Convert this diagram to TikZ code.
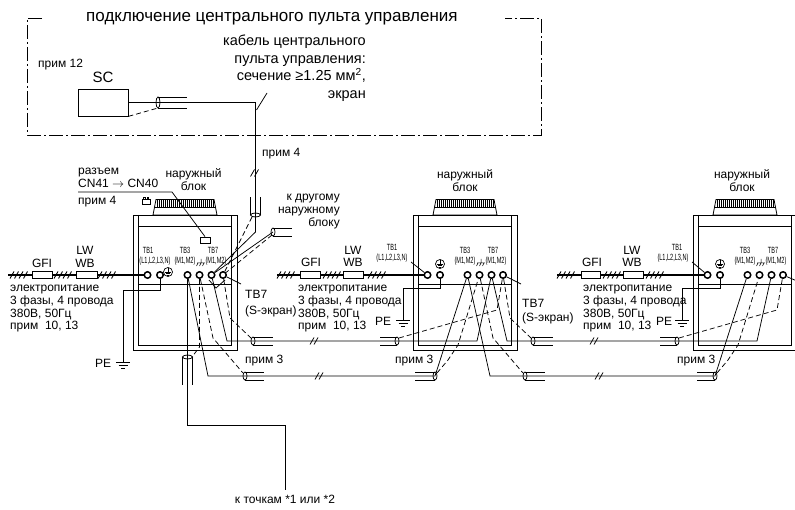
\documentclass[tikz,border=0pt]{standalone}
\usepackage{fontspec}
\setmainfont{Liberation Sans}
% outdoor unit: casing, fan, terminal blocks and their small labels
% #1 = left edge of the casing, #2 = name prefix of the terminals
\newcommand\unitbody[2]{%
  \draw[frame] (#1,215) rectangle (#1+104,350);
  \draw[frame] (#1+5.5,215) -- (#1+5.5,345) -- (#1+98.5,345) -- (#1+98.5,215)
    (#1+5.5,226) -- (#1+98.5,226) (#1+5.5,284) -- (#1+98.5,284);
  \draw[frame,fill=white] (#1+23,199.5) -- (#1+81,199.5) -- (#1+84,215) -- (#1+20,215) -- cycle;
  \draw[frame] (#1+22,207) -- (#1+82,207);
  \foreach \k in {0,...,28} \draw[line width=0.45pt] (#1+24+2*\k,199.5) -- (#1+24+2*\k,207);
  \node[term] (#2-t1a) at (#1+14.5,275) {};
  \node[term] (#2-t1b) at (#1+27,275) {};
  \node[term] (#2-t3a) at (#1+54.5,275) {};
  \node[term] (#2-t3b) at (#1+66.5,275) {};
  \node[term] (#2-t7a) at (#1+78.5,275) {};
  \node[term] (#2-t7b) at (#1+90,275) {};
  \node[tiny,anchor=base] (#2-tb3) at (#1+52,254) {TB3};
  \node[tiny,anchor=base] (#2-tb3m) at (#1+52,264) {(M1,M2)};
  \node[tiny,anchor=base] (#2-tb7) at (#1+80,254) {TB7};
  \node[tiny,anchor=base] (#2-tb7m) at (#1+83,264) {(M1,M2)};
  \chassis{#1+68}{263}%
}
% frame ground between the two terminal blocks
\newcommand\chassis[2]{%
  \draw[line width=0.5pt] (#1,#2-4) -- (#1,#2) (#1-4,#2) -- (#1+4,#2)
    (#1-3,#2) -- (#1-4.5,#2+3) (#1,#2) -- (#1-1.5,#2+3) (#1+3,#2) -- (#1+1.5,#2+3);}
% earth terminal: circle with the earth sign inside
\newcommand\earthterm[3]{%
  \node[circle,draw,line width=0.7pt,minimum size=9pt,inner sep=0pt] (#3) at (#1,#2) {};
  \draw[line width=0.6pt] (#1,#2-3.5) -- (#1,#2) (#1-3,#2) -- (#1+3,#2)
    (#1-2,#2+1.5) -- (#1+2,#2+1.5) (#1-1,#2+3) -- (#1+1,#2+3);}
% protective earth symbol
\newcommand\earthsym[2]{%
  \draw[wire] (#1-7,#2) -- (#1+7,#2) (#1-4.5,#2+3) -- (#1+4.5,#2+3) (#1-2,#2+6) -- (#1+2,#2+6);}
% shielded cable end lying horizontally: #1,#2 open end, #3 signed length, #4 half height
\newcommand\tubeh[4]{%
  \draw[wire] (#1,#2-#4) -- ++(#3,0) (#1,#2+#4) -- ++(#3,0);
  \draw[wire] (#1,#2) ellipse [x radius=2,y radius=#4];}
% shielded cable end standing vertically: #1,#2 open end, #3 signed length, #4 half width
\newcommand\tubev[4]{%
  \draw[wire] (#1-#4,#2) -- ++(0,#3) (#1+#4,#2) -- ++(0,#3);
  \draw[wire] (#1,#2) ellipse [x radius=#4,y radius=2];}
% double slash on a long run
\newcommand\dslash[2]{%
  \draw[wire] (#1-5,#2+3.5) -- (#1-1,#2-3.5) (#1-1,#2+3.5) -- (#1+3,#2-3.5);}
% four hatch strokes on the power line
\newcommand\hatch[2]{%
  \foreach \k in {0,1,2,3} \draw[line width=0.9pt] (#1+4.5*\k,#2+3.5) -- (#1+4.5*\k+4,#2-3.5);}
\begin{document}
\begin{tikzpicture}[x=1pt,y=-1pt,
  wire/.style={line width=0.75pt},
  shield/.style={line width=0.75pt,dash pattern=on 5pt off 3pt},
  pwr/.style={line width=2.5pt},
  frame/.style={line width=0.8pt},
  border/.style={line width=0.75pt,dash pattern=on 14pt off 3pt on 2pt off 3pt},
  term/.style={circle,draw,line width=1.5pt,minimum size=6.5pt,inner sep=0pt,fill=white},
  lbl/.style={inner sep=0pt,font=\fontsize{12}{14}\selectfont},
  big/.style={inner sep=0pt,font=\fontsize{14.5}{16}\selectfont},
  tiny/.style={inner sep=0pt,font=\fontsize{9}{9}\selectfont,xscale=0.62},
  box/.style={draw,wire,fill=white,inner sep=0pt},
]
\useasboundingbox (0,0) rectangle (795,510);
\fill[white] (0,0) rectangle (795,510);
\begin{scope}
\clip (0,0) rectangle (795,510);

% ---------------- central controller ----------------
\draw[border] (42,18) -- (27,18) -- (27,135) -- (541,135) -- (541,18) -- (505,18);
\node[lbl,font=\fontsize{17}{18}\selectfont,anchor=base west] (title) at (86,22) {подключение центрального пульта управления};
\node[lbl,anchor=base west] (n12) at (38,68) {прим 12};
\node[big,font=\fontsize{15}{16}\selectfont,anchor=base] (sclbl) at (103,83) {SC};
\node[box,minimum width=50pt,minimum height=27pt] (sc) at (103,102.5) {};
\node[big,anchor=base east] (c1) at (366,46) {кабель центрального};
\node[big,anchor=base east] (c2) at (366,64) {пульта управления:};
\node[big,anchor=base east] (c3) at (366,81) {сечение ≥1.25 мм\textsuperscript{2},};
\node[big,anchor=base east] (c4) at (366,99) {экран};
\node[lbl,anchor=base west] (n4a) at (262,157) {прим 4};

\coordinate (cbend) at (255.5,102.5);
\coordinate (ctube) at (255.5,215);
\coordinate (cknee) at (255.5,232);
\tubeh{158}{102.5}{29}{5.5}
\draw[shield] (sc.south east) -- (158,108);
\draw[wire] (267,93) -- (256.5,110);
\dslash{255.5}{173}
\tubev{255.5}{215}{-18}{5}

% ---------------- outdoor units ----------------
\unitbody{133}{u1}
\unitbody{413}{u2}
\unitbody{693}{u3}

\draw[wire] (sc.east) -- (cbend) -- (cknee) -- (u1-t7a);
\draw[shield] (252,217) -- (u1-t7b);

% unit 1
\earthterm{168}{272}{u1-pe}
\node[tiny,anchor=base] (u1-tb1) at (148,254) {TB1};
\node[tiny,anchor=base] (u1-tb1l) at (155,264) {(L1,L2,L3,N)};
\node[lbl,anchor=base] (u1-name) at (193.5,178) {наружный};
\node[lbl,anchor=base] (u1-name2) at (193.5,191) {блок};
\node[lbl,anchor=base west] (cn1) at (78,175) {разъем};
\node[lbl,anchor=base west] (cn2) at (78,188) {CN41 $\rightarrow$ CN40};
\node[lbl,anchor=base west] (cn3) at (78,205) {прим 4};
\node[draw,wire,fill=white,minimum width=10pt,minimum height=6pt,inner sep=0pt] (cn) at (205,240) {};
\draw[wire] (78,192) -- (172,192) -- (cn.north);
\draw[line width=0.6pt] (142,199) rectangle (150,204)
  (143.5,199) -- (143.5,197.5) -- (145,197.5) -- (145,199)
  (147,199) -- (147,197.5) -- (148.5,197.5) -- (148.5,199);

\draw[pwr] (8,275) -- (u1-t1a);
\hatch{10}{275} \hatch{54}{275} \hatch{98}{275}
\node[box,minimum width=20pt,minimum height=7pt] (u1-gfi) at (42,275) {};
\node[box,minimum width=21pt,minimum height=7pt] (u1-lw) at (86.5,275) {};
\node[lbl,anchor=base] at (42,268) {GFI};
\node[lbl,anchor=base] at (85,255) {LW};
\node[lbl,anchor=base] at (85,268) {WB};
\node[lbl,anchor=base west] at (10,292) {электропитание};
\node[lbl,anchor=base west] at (10,305) {3 фазы, 4 провода};
\node[lbl,anchor=base west] at (10,317.5) {380В, 50Гц};
\node[lbl,anchor=base west] at (10,330) {прим~~10, 13};
\draw[wire] (u1-t1b) -- (160,290) -- (123,290) -- (123,362);
\earthsym{123}{362}
\node[lbl,anchor=base west] at (95,368) {PE};

\coordinate (oth) at (273,232);
\tubeh{273}{232}{19}{4}
\draw[wire] (oth) -- (u1-t7a);
\draw[shield] (272,235) -- (u1-t7b);
\node[lbl,anchor=base east] at (340,201) {к другому};
\node[lbl,anchor=base east] at (340,214) {наружному};
\node[lbl,anchor=base east] at (340,227) {блоку};

\draw[wire] (u1-t7b) -- (241,284);
\node[lbl,anchor=base west] at (245,299) {TB7};
\node[lbl,anchor=base west] at (245,315) {(S-экран)};
\draw[wire] (209,280) -- (216,288) -- (225,280);

\tubev{187.5}{357}{28}{5}
\coordinate (pts) at (285,490);
\draw[wire] (u1-t3a) -- (187.5,425) -- (285,425) -- (pts);
\node[lbl,anchor=base] at (285,503) {к точкам *1 или *2};
\draw[shield] (u1-t3b) -- (199.5,347) -- (192,357);

\draw[wire] (u1-t7a) -- (227,341) -- (477,341) -- (u2-t7a);
\draw[wire] (u1-t3a) -- (208,376) -- (435,376) -- (u2-t3a);
\draw[shield] (u1-t7b) -- (230,318) -- (251,338);
\draw[shield] (u1-t3b) -- (213,338) -- (243,373);
\tubeh{253}{341}{20}{4}
\tubeh{245}{376}{19}{4}
\tubeh{397}{341}{-17}{4}
\tubeh{435}{376}{-20}{4}
\node[lbl,anchor=base west] at (245,364) {прим 3};
\dslash{315}{341} \dslash{320}{376}

% unit 2
\earthterm{440}{264}{u2-pe}
\node[tiny,anchor=base] (u2-tb1) at (392,251) {TB1};
\node[tiny,anchor=base] (u2-tb1l) at (392,261) {(L1,L2,L3,N)};
\draw[wire] (411,262) -- (u2-t1a);
\node[lbl,anchor=base] at (465,179) {наружный};
\node[lbl,anchor=base] at (465,192) {блок};
\draw[pwr] (277,275) -- (u2-t1a);
\hatch{277}{275} \hatch{323}{275} \hatch{368}{275}
\node[box,minimum width=20pt,minimum height=7pt] (u2-gfi) at (310,275) {};
\node[box,minimum width=20pt,minimum height=7pt] (u2-lw) at (353,275) {};
\node[lbl,anchor=base] at (311,267) {GFI};
\node[lbl,anchor=base] at (353,255) {LW};
\node[lbl,anchor=base] at (353,267) {WB};
\node[lbl,anchor=base west] at (298,292) {электропитание};
\node[lbl,anchor=base west] at (298,305) {3 фазы, 4 провода};
\node[lbl,anchor=base west] at (298,317.5) {380В, 50Гц};
\node[lbl,anchor=base west] at (298,330) {прим~~10, 13};
\draw[wire] (u2-t1b) -- (440,288) -- (403,288) -- (403,320);
\earthsym{403}{320}
\node[lbl,anchor=base west] at (375,326) {PE};
\draw[wire] (u2-t7b) -- (521,284);
\node[lbl,anchor=base west] at (522,308) {TB7};
\node[lbl,anchor=base west] at (522,322) {(S-экран)};

\draw[shield] (399,338) -- (497,310) -- (u2-t7b);
\draw[shield] (437,373) -- (448,360) -- (458,345) -- (u2-t3b);
\draw[wire] (u2-t7a) -- (507,341) -- (757,341) -- (u3-t7a);
\draw[wire] (u2-t3a) -- (490,376) -- (715,376) -- (u3-t3a);
\draw[shield] (u2-t7b) -- (510,318) -- (531,338);
\draw[shield] (u2-t3b) -- (493,338) -- (523,373);
\tubeh{533}{341}{20}{4}
\tubeh{525}{376}{20}{4}
\tubeh{677}{341}{-17}{4}
\tubeh{715}{376}{-18}{4}
\node[lbl,anchor=base west] at (395,364) {прим 3};
\node[lbl,anchor=base west] at (677,364) {прим 3};
\dslash{595}{341} \dslash{600}{376}

% unit 3
\earthterm{720}{264}{u3-pe}
\node[tiny,anchor=base] (u3-tb1) at (677,251) {TB1};
\node[tiny,anchor=base] (u3-tb1l) at (673,261) {(L1,L2,L3,N)};
\draw[wire] (692,262) -- (u3-t1a);
\node[lbl,anchor=base] at (742,179) {наружный};
\node[lbl,anchor=base] at (742,192) {блок};
\draw[pwr] (557,275) -- (u3-t1a);
\hatch{557}{275} \hatch{603}{275} \hatch{646}{275}
\node[box,minimum width=19pt,minimum height=7pt] (u3-gfi) at (591,275) {};
\node[box,minimum width=20pt,minimum height=7pt] (u3-lw) at (633,275) {};
\node[lbl,anchor=base] at (592,267) {GFI};
\node[lbl,anchor=base] at (632,255) {LW};
\node[lbl,anchor=base] at (632,267) {WB};
\node[lbl,anchor=base west] at (583,292) {электропитание};
\node[lbl,anchor=base west] at (583,305) {3 фазы, 4 провода};
\node[lbl,anchor=base west] at (583,317.5) {380В, 50Гц};
\node[lbl,anchor=base west] at (583,330) {прим~~10, 13};
\draw[wire] (u3-t1b) -- (720,288) -- (682,288) -- (682,320);
\earthsym{682}{320}
\node[lbl,anchor=base west] at (656,326) {PE};
\draw[wire] (u3-t7b) -- (797,281);
\draw[shield] (679,338) -- (777,310) -- (u3-t7b);
\draw[shield] (717,373) -- (728,360) -- (738,345) -- (u3-t3b);
\end{scope}
\end{tikzpicture}
\end{document}
